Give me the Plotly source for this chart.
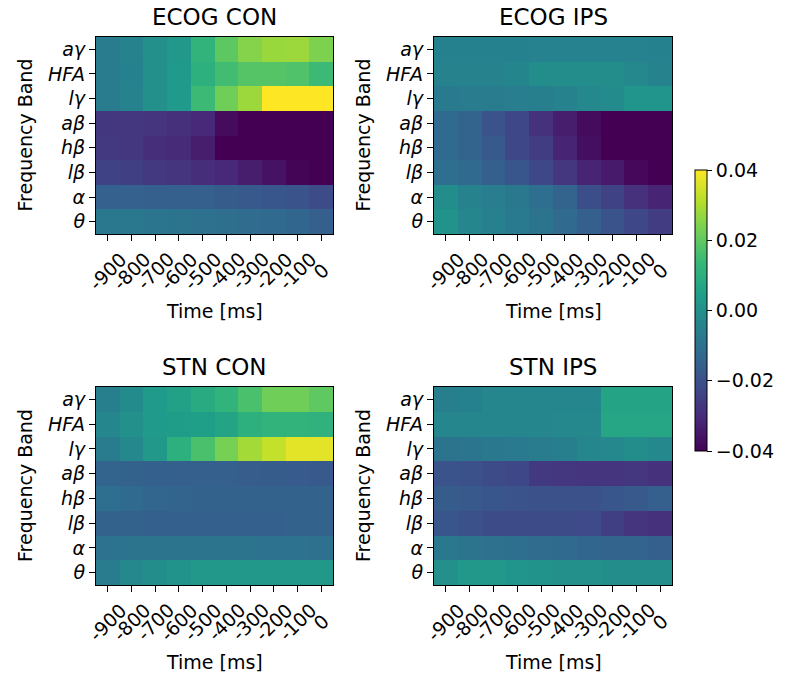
import plotly.graph_objects as go

times = [-900, -800, -700, -600, -500, -400, -300, -200, -100, 0]
time_labels = ["-900", "-800", "-700", "-600", "-500", "-400", "-300", "-200", "-100", "0"]
bands = ["<i>aγ</i>", "<i>HFA</i>", "<i>lγ</i>", "<i>aβ</i>", "<i>hβ</i>", "<i>lβ</i>", "<i>α</i>", "<i>θ</i>"]
titles = ["ECOG CON", "ECOG IPS", "STN CON", "STN IPS"]
cbar_vals = [-0.04, -0.02, 0.0, 0.02, 0.04]
cbar_text = ["−0.04", "−0.02", "0.00", "0.02", "0.04"]

ecog_con = [
    [-0.0064, -0.0040, 0.0000, 0.0024, 0.0120, 0.0195, 0.0250, 0.0275, 0.0280, 0.0240],
    [-0.0064, -0.0048, 0.0000, 0.0032, 0.0104, 0.0152, 0.0184, 0.0184, 0.0176, 0.0144],
    [-0.0064, -0.0040, 0.0000, 0.0032, 0.0144, 0.0224, 0.0280, 0.0400, 0.0400, 0.0400],
    [-0.0270, -0.0272, -0.0280, -0.0290, -0.0310, -0.0375, -0.0400, -0.0400, -0.0400, -0.0400],
    [-0.0264, -0.0272, -0.0296, -0.0304, -0.0336, -0.0400, -0.0400, -0.0400, -0.0400, -0.0400],
    [-0.0240, -0.0248, -0.0264, -0.0280, -0.0296, -0.0312, -0.0336, -0.0360, -0.0392, -0.0400],
    [-0.0152, -0.0152, -0.0160, -0.0160, -0.0160, -0.0168, -0.0176, -0.0184, -0.0192, -0.0216],
    [-0.0080, -0.0080, -0.0088, -0.0096, -0.0104, -0.0110, -0.0120, -0.0128, -0.0136, -0.0160],
]
ecog_ips = [
    [-0.0048, -0.0048, -0.0048, -0.0048, -0.0044, -0.0044, -0.0044, -0.0044, -0.0044, -0.0048],
    [-0.0040, -0.0040, -0.0040, -0.0035, -0.0008, -0.0008, -0.0008, -0.0008, -0.0024, -0.0040],
    [-0.0072, -0.0066, -0.0064, -0.0060, -0.0056, -0.0040, -0.0024, -0.0016, 0.0016, 0.0016],
    [-0.0128, -0.0144, -0.0192, -0.0224, -0.0288, -0.0336, -0.0376, -0.0400, -0.0400, -0.0400],
    [-0.0128, -0.0144, -0.0176, -0.0224, -0.0256, -0.0320, -0.0368, -0.0400, -0.0400, -0.0400],
    [-0.0112, -0.0128, -0.0160, -0.0184, -0.0224, -0.0272, -0.0320, -0.0344, -0.0384, -0.0400],
    [-0.0010, -0.0040, -0.0060, -0.0080, -0.0112, -0.0144, -0.0208, -0.0240, -0.0288, -0.0320],
    [0.0010, -0.0030, -0.0050, -0.0072, -0.0096, -0.0128, -0.0160, -0.0192, -0.0224, -0.0256],
]
stn_con = [
    [-0.0056, -0.0016, 0.0032, 0.0056, 0.0088, 0.0120, 0.0168, 0.0224, 0.0224, 0.0200],
    [-0.0032, 0.0000, 0.0032, 0.0040, 0.0048, 0.0064, 0.0104, 0.0120, 0.0120, 0.0112],
    [-0.0064, -0.0024, 0.0024, 0.0104, 0.0168, 0.0232, 0.0288, 0.0328, 0.0368, 0.0368],
    [-0.0144, -0.0150, -0.0155, -0.0160, -0.0160, -0.0160, -0.0165, -0.0168, -0.0170, -0.0176],
    [-0.0112, -0.0128, -0.0140, -0.0145, -0.0150, -0.0150, -0.0150, -0.0150, -0.0150, -0.0150],
    [-0.0150, -0.0150, -0.0155, -0.0155, -0.0155, -0.0155, -0.0155, -0.0155, -0.0150, -0.0150],
    [-0.0100, -0.0096, -0.0096, -0.0096, -0.0096, -0.0096, -0.0096, -0.0100, -0.0100, -0.0104],
    [-0.0064, -0.0024, -0.0008, 0.0008, 0.0024, 0.0024, 0.0024, 0.0024, 0.0024, 0.0024],
]
stn_ips = [
    [-0.0056, -0.0048, -0.0032, -0.0032, -0.0032, -0.0032, -0.0032, 0.0064, 0.0064, 0.0064],
    [-0.0032, -0.0032, -0.0032, -0.0030, -0.0030, -0.0024, -0.0024, 0.0072, 0.0072, 0.0072],
    [-0.0096, -0.0088, -0.0080, -0.0072, -0.0064, -0.0056, -0.0032, -0.0024, -0.0008, -0.0024],
    [-0.0192, -0.0200, -0.0216, -0.0224, -0.0264, -0.0272, -0.0280, -0.0280, -0.0272, -0.0288],
    [-0.0168, -0.0176, -0.0184, -0.0192, -0.0200, -0.0200, -0.0200, -0.0184, -0.0176, -0.0160],
    [-0.0184, -0.0200, -0.0216, -0.0216, -0.0216, -0.0216, -0.0220, -0.0248, -0.0280, -0.0288],
    [-0.0080, -0.0096, -0.0104, -0.0112, -0.0120, -0.0128, -0.0136, -0.0144, -0.0144, -0.0160],
    [0.0000, 0.0024, 0.0024, 0.0016, 0.0008, 0.0000, 0.0000, -0.0008, -0.0008, -0.0008],
]
panels = [ecog_con, ecog_ips, stn_con, stn_ips]

W, H = 787, 678
# pixel boxes of plot areas: (left, right, top, bottom)
boxes = [(96, 333, 37, 234), (434, 672, 37, 234), (96, 333, 387, 585), (434, 672, 387, 585)]

FONT = "DejaVu Sans"
BLACK = "black"
fig = go.Figure()
for i, (z, box) in enumerate(zip(panels, boxes)):
    l, r, t, b = box
    sfx = "" if i == 0 else str(i + 1)
    xa, ya = "x" + sfx, "y" + sfx
    fig.add_trace(go.Heatmap(
        z=z, x=times, y=list(range(len(bands))),
        colorscale="Viridis", zmin=-0.04, zmax=0.04,
        xaxis=xa, yaxis=ya, showscale=(i == 0),
        colorbar=dict(
            x=695 / W, xanchor="left", xpad=0, ypad=0,
            thickness=12, thicknessmode="pixels",
            y=1 - 310.5 / H, yanchor="middle", len=281 / H, lenmode="fraction",
            outlinewidth=1, outlinecolor=BLACK,
            tickvals=cbar_vals, ticktext=cbar_text,
            ticks="outside", ticklen=5, tickcolor=BLACK, tickwidth=1,
            tickfont=dict(family=FONT, size=19, color=BLACK),
        ),
    ))
    fig.layout["xaxis" + sfx] = dict(
        domain=[l / W, r / W], anchor=ya, automargin=False,
        tickvals=times, ticktext=[""] * len(times),
        ticks="outside", ticklen=6, tickcolor=BLACK, tickwidth=1,
        showline=True, mirror=True, linecolor=BLACK, linewidth=1.2,
        showgrid=False, zeroline=False, range=[-950, 50],
    )
    fig.layout["yaxis" + sfx] = dict(
        domain=[1 - b / H, 1 - t / H], anchor=xa, automargin=False,
        tickvals=list(range(len(bands))), ticktext=bands,
        ticks="outside", ticklen=6, tickcolor=BLACK, tickwidth=1,
        showline=True, mirror=True, linecolor=BLACK, linewidth=1.2,
        showgrid=False, zeroline=False,
        tickfont=dict(family=FONT, size=19, color=BLACK),
        range=[len(bands) - 0.5, -0.5],
    )
    # rotated x tick labels, centred on ticks (matplotlib style)
    for tv, tl in zip(times, time_labels):
        fig.add_annotation(
            text=tl, x=tv, xref=xa, y=0, yref=ya + " domain", yshift=-37,
            xanchor="center", yanchor="middle", textangle=-45, showarrow=False,
            font=dict(family=FONT, size=19, color=BLACK),
        )
    # axis titles
    fig.add_annotation(
        text="Time [ms]", x=(l + r) / 2 / W, y=1 - (b + 77) / H, xref="paper", yref="paper",
        xanchor="center", yanchor="middle", showarrow=False,
        font=dict(family=FONT, size=19, color=BLACK),
    )
    fig.add_annotation(
        text="Frequency Band", x=(l - 71) / W, y=1 - (t + b) / 2 / H, xref="paper", yref="paper",
        xanchor="center", yanchor="middle", textangle=-90, showarrow=False,
        font=dict(family=FONT, size=19, color=BLACK),
    )
    # panel title
    fig.add_annotation(
        text=titles[i], x=(l + r) / 2 / W, y=1 - (t - 20) / H, xref="paper", yref="paper",
        xanchor="center", yanchor="middle", showarrow=False,
        font=dict(family=FONT, size=23, color=BLACK),
    )

fig.update_layout(
    width=W, height=H, margin=dict(l=0, r=0, t=0, b=0),
    paper_bgcolor="white", plot_bgcolor="white",
    font=dict(family=FONT, color=BLACK),
)
fig.write_html("out.html")
